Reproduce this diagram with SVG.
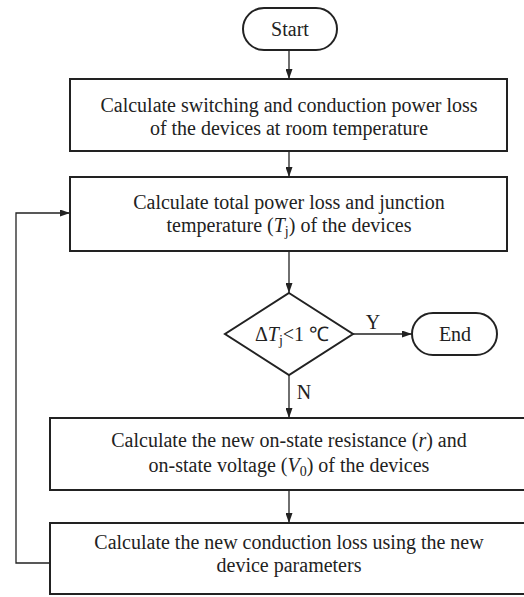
<svg xmlns="http://www.w3.org/2000/svg" width="524" height="597" viewBox="0 0 524 597">
<defs>
<marker id="ah" viewBox="0 0 10 7" refX="10" refY="3.5" markerWidth="10" markerHeight="7" markerUnits="userSpaceOnUse" orient="auto">
<path d="M0,0 L10,3.5 L0,7 Z" fill="#222"/>
</marker>
<style>
.box{fill:#fff;stroke:#222;stroke-width:2}
.t{font-family:"Liberation Serif","Times New Roman",serif;font-size:20px;fill:#222;text-anchor:middle}
.c{fill:none;stroke:#222;stroke-width:1.3}
.i{font-style:italic}
</style>
</defs>
<rect width="524" height="597" fill="#fff"/>
<g id="connectors">
<line class="c" x1="289" y1="50" x2="289" y2="79" marker-end="url(#ah)"/>
<line class="c" x1="289" y1="151" x2="289" y2="177" marker-end="url(#ah)"/>
<line class="c" x1="289" y1="251" x2="289" y2="293" marker-end="url(#ah)"/>
<line class="c" x1="353" y1="334" x2="412" y2="334" marker-end="url(#ah)"/>
<line class="c" x1="289" y1="375" x2="289" y2="418" marker-end="url(#ah)"/>
<line class="c" x1="289" y1="490" x2="289" y2="523" marker-end="url(#ah)"/>
<polyline class="c" points="50,563 16,563 16,213 70,213" marker-end="url(#ah)"/>
<text class="t" x="373" y="329">Y</text>
<text class="t" x="304" y="399">N</text>
</g>
<g id="start">
<rect class="box" x="243" y="8" width="94" height="42" rx="21"/>
<text class="t" x="290" y="36">Start</text>
</g>
<g id="step1">
<rect class="box" x="70" y="79" width="437" height="72"/>
<text class="t" x="289" y="112">Calculate switching and conduction power loss</text>
<text class="t" x="289" y="135">of the devices at room temperature</text>
</g>
<g id="step2">
<rect class="box" x="70" y="177" width="437" height="74"/>
<text class="t" x="289" y="209">Calculate total power loss and junction</text>
<text class="t" x="289" y="232">temperature (<tspan class="i">T</tspan><tspan font-size="14" dy="4">j</tspan><tspan dy="-4">) of the devices</tspan></text>
</g>
<g id="decision">
<polygon class="box" points="289,293 353,334 289,375 225,334"/>
<text class="t" x="292" y="341">Δ<tspan class="i">T</tspan><tspan font-size="14" dy="4">j</tspan><tspan dy="-4">&lt;1 ℃</tspan></text>
</g>
<g id="end">
<rect class="box" x="412" y="313" width="85" height="42" rx="21"/>
<text class="t" x="455" y="341">End</text>
</g>
<g id="step3">
<rect class="box" x="50" y="418" width="480" height="72"/>
<text class="t" x="289" y="447">Calculate the new on-state resistance (<tspan class="i">r</tspan>) and</text>
<text class="t" x="289" y="472">on-state voltage (<tspan class="i">V</tspan><tspan font-size="14" dy="4">0</tspan><tspan dy="-4">) of the devices</tspan></text>
</g>
<g id="step4">
<rect class="box" x="50" y="523" width="480" height="71"/>
<text class="t" x="289" y="549">Calculate the new conduction loss using the new</text>
<text class="t" x="289" y="572">device parameters</text>
</g>
</svg>
